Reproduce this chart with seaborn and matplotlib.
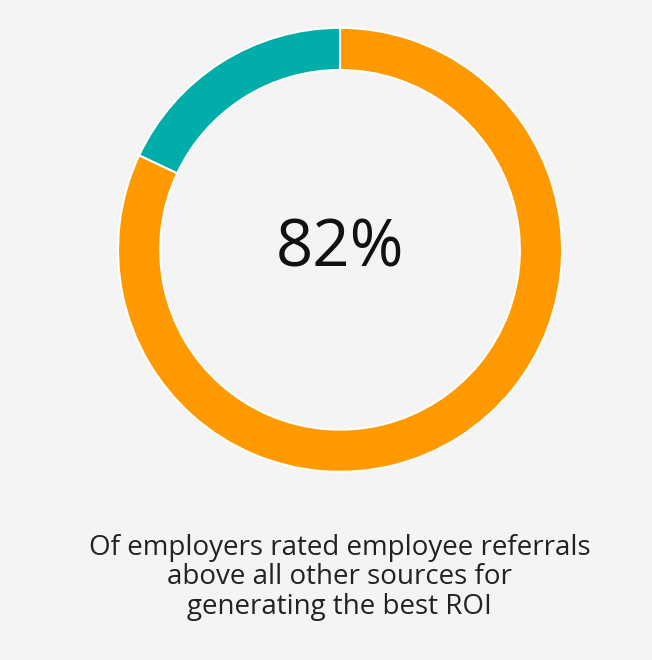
import matplotlib
matplotlib.use("Agg")
import matplotlib.pyplot as plt
import seaborn as sns

labels = ["Rated referrals best ROI", "Other"]
values = [82, 18]
colors = ["#FF9900", "#00ADA8"]
center_label = "82%"
caption = "Of employers rated employee referrals\nabove all other sources for\ngenerating the best ROI"

sns.set_theme(style="white")
plt.rcParams['font.family'] = ['Open Sans', 'DejaVu Sans']

fig = plt.figure(figsize=(6.52, 6.60), dpi=100)
fig.patch.set_facecolor("#F4F4F4")
ax = fig.add_axes([0.181, 0.285, 0.681, 0.673])
ax.set_facecolor("#F4F4F4")
ax.pie(values, colors=colors, startangle=90, counterclock=False,
       wedgeprops=dict(width=0.19, edgecolor="white", linewidth=1.5))
ax.set_aspect("equal")
ax.set_xlim(-1, 1); ax.set_ylim(-1, 1)
ax.text(0, 0, center_label, ha="center", va="center", fontsize=47, color="#111111")
fig.text(0.521, 0.125, caption, ha="center", va="center", fontsize=20,
         color="#222222", linespacing=1.05)
fig.savefig("out.png", dpi=100, facecolor=fig.get_facecolor())
